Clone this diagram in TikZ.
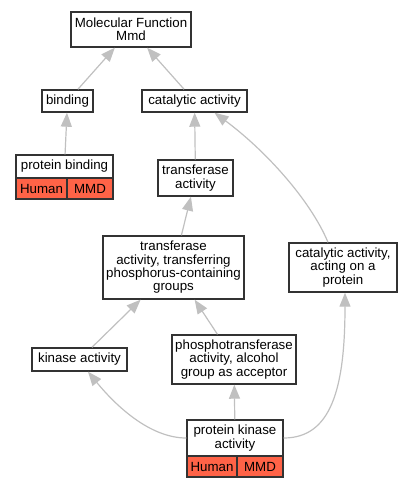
\documentclass[tikz,border=0pt]{standalone}
\usepackage{fontspec}
\setmainfont{Liberation Sans}
\usetikzlibrary{arrows.meta}
\definecolor{tomato}{HTML}{FF6347}
\definecolor{edgegray}{HTML}{C0C0C0}

\begin{document}
\begin{tikzpicture}[x=1pt,y=-1pt,
    font=\fontsize{13.3}{13.3}\selectfont,
    term/.style 2 args={draw=black!80,line width=1.4pt,fill=white,inner sep=0pt,
      align=center,minimum width=#1,minimum height=#2},
    org/.style 2 args={term={#1}{#2},fill=tomato},
    isa/.style={draw=edgegray,line width=1.2pt,-{Triangle[length=14pt,width=11pt]}}]
  \useasboundingbox (0,0) rectangle (412,488);
  % terms
  \node [term={120pt}{35pt}] (mf) at (131,29.5) {Molecular Function\\Mmd};
  \node [term={51pt}{22pt}] (binding) at (67.5,101) {binding};
  \node [term={105pt}{22pt}] (catalytic) at (194.5,101) {catalytic activity};
  \node [term={97pt}{23pt}] (pbind) at (64.5,166.5) {protein binding};
  \node [org={51pt}{21pt}] (pbindhuman) at (41.5,188.5) {Human};
  \node [org={46pt}{21pt}] (pbindmmd) at (90,188.5) {MMD};
  \node [term={75pt}{36pt}] (transf) at (195.5,178) {transferase\\activity};
  \node [term={141pt}{63pt}] (transfp) at (173.5,267.5)
    {transferase\\activity, transferring\\phosphorus-containing\\groups};
  \node [term={108pt}{49pt}] (catprot) at (343,267.5)
    {catalytic activity,\\acting on a\\protein};
  \node [term={95pt}{23pt}] (kinase) at (79.5,359.5) {kinase activity};
  \node [term={124pt}{49pt}] (phospho) at (234,359.5)
    {phosphotransferase\\activity, alcohol\\group as acceptor};
  \node [term={96pt}{36pt}] (pkinase) at (235,438) {protein kinase\\activity};
  \node [org={50pt}{21pt}] (pkinasehuman) at (212,466.5) {Human};
  \node [org={46pt}{21pt}] (pkinasemmd) at (260,466.5) {MMD};
  % is_a edges
  \draw [isa] (binding) -- (mf);
  \draw [isa] (catalytic) -- (mf);
  \draw [isa] (pbind) -- (binding);
  \draw [isa] (transf) -- (catalytic);
  \draw [isa] ([xshift=-15pt]catprot.north) .. controls +(-18,-43) and +(50,37) .. ([xshift=20pt]catalytic.south);
  \draw [isa] (transfp) -- (transf);
  \draw [isa] (kinase) -- (transfp);
  \draw [isa] (phospho) -- (transfp);
  \draw [isa] (pkinase) -- (phospho);
  \draw [isa] (pkinase.west) .. controls +(-37,0) and +(27,33) .. ([xshift=8.5pt]kinase.south);
  \draw [isa] (pkinase.east) .. controls +(47,0) and +(0,97) .. ([xshift=2pt]catprot.south);
\end{tikzpicture}
\end{document}
